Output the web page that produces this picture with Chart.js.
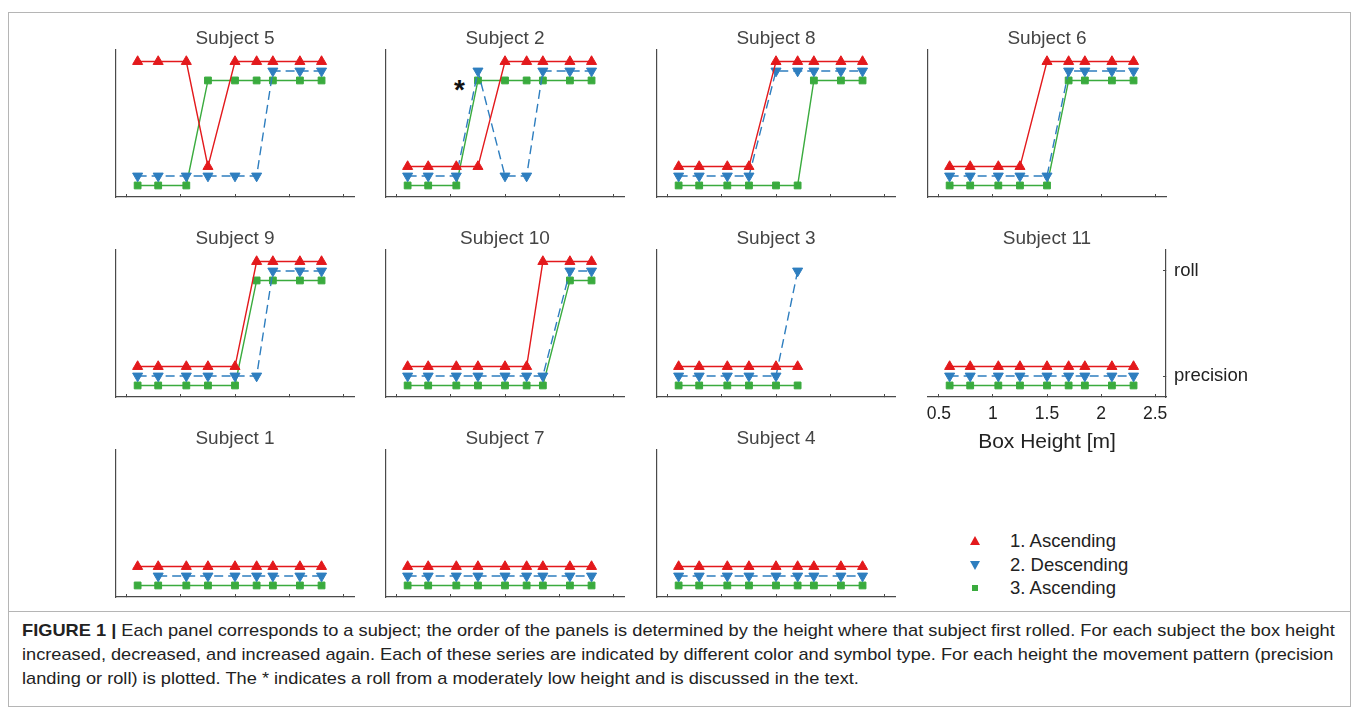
<!DOCTYPE html>
<html>
<head>
<meta charset="utf-8">
<script src="https://cdn.jsdelivr.net/npm/chart.js@4.4.0/dist/chart.umd.min.js"></script>
<style>
  body { margin: 0; background: #fff; font-family: "Liberation Sans", Arial, sans-serif; }
  #page { position: relative; width: 1358px; height: 713px; overflow: hidden; }
  .frame { position: absolute; left: 8px; top: 12px; width: 1341px; height: 693px; border: 1px solid #b5b5b5; }
  .sep { position: absolute; left: 8px; top: 611px; width: 1343px; height: 1px; background: #b5b5b5; }
  .panel { position: absolute; }
  .star { position: absolute; font: bold 28px "Liberation Sans", Arial, sans-serif; color: #111; line-height: 28px; }
  .leg { position: absolute; left: 1010px; font-size: 18.5px; color: #222; line-height: 22px; }
  .mk { position: absolute; width: 0; height: 0; }
  .caption { position: absolute; left: 22px; font-size: 17px; color: #222; line-height: 24px; white-space: nowrap; transform-origin: left center; }
  .caption b { font-weight: bold; }
</style>
</head>
<body>
<div id="page">
  <div class="frame"></div>
  <div class="sep"></div>
  <div class="star" style="left:454px; top:76px;">*</div>

  <div class="mk" style="left:970px; top:536px; border-left:5px solid transparent; border-right:5px solid transparent; border-bottom:9px solid #e3191c;"></div>
  <div class="mk" style="left:970px; top:561px; border-left:5px solid transparent; border-right:5px solid transparent; border-top:9px solid #2e7ebf;"></div>
  <div class="mk" style="left:972px; top:585px; width:6px; height:6px; background:#3aab3e;"></div>
  <div class="leg" id="leg0" style="top:530px;"></div>
  <div class="leg" id="leg1" style="top:554px;"></div>
  <div class="leg" id="leg2" style="top:577px;"></div>

  <div class="caption" id="cap1" style="top:619px;"><b>FIGURE 1 |</b> Each panel corresponds to a subject; the order of the panels is determined by the height where that subject first rolled. For each subject the box height</div>
  <div class="caption" id="cap2" style="top:643px;">increased, decreased, and increased again. Each of these series are indicated by different color and symbol type. For each height the movement pattern (precision</div>
  <div class="caption" id="cap3" style="top:667px;">landing or roll) is plotted. The * indicates a roll from a moderately low height and is discussed in the text.</div>
</div>
<script>
// Box heights tested (m)
const heights = [0.6, 0.79, 1.05, 1.25, 1.5, 1.7, 1.85, 2.1, 2.3];
const xTickValues = [0.5, 1, 1.5, 2, 2.5];
const xTickLabels = ['0.5', '1', '1.5', '2', '2.5'];
const yTickLabels = ['precision', 'roll'];
const seriesNames = ['1. Ascending', '2. Descending', '3. Ascending'];
const panelTitles = ['Subject 5', 'Subject 2', 'Subject 8', 'Subject 6',
                     'Subject 9', 'Subject 10', 'Subject 3', 'Subject 11',
                     'Subject 1', 'Subject 7', 'Subject 4'];

// 0 = precision landing, 1 = roll, null = not tested
const s5Asc1 = [1, 1, 1, 0, 1, 1, 1, 1, 1];
const s5Desc = [0, 0, 0, 0, 0, 0, 1, 1, 1];
const s5Asc2 = [0, 0, 0, 1, 1, 1, 1, 1, 1];

const s2Asc1 = [0, 0, 0, 0, 1, 1, 1, 1, 1];
const s2Desc = [0, 0, 0, 1, 0, 0, 1, 1, 1];
const s2Asc2 = [0, 0, 0, 1, 1, 1, 1, 1, 1];

const s8Asc1 = [0, 0, 0, 0, 1, 1, 1, 1, 1];
const s8Desc = [0, 0, 0, 0, 1, 1, 1, 1, 1];
const s8Asc2 = [0, 0, 0, 0, 0, 0, 1, 1, 1];

const s6Asc1 = [0, 0, 0, 0, 1, 1, 1, 1, 1];
const s6Desc = [0, 0, 0, 0, 0, 1, 1, 1, 1];
const s6Asc2 = [0, 0, 0, 0, 0, 1, 1, 1, 1];

const s9Asc1 = [0, 0, 0, 0, 0, 1, 1, 1, 1];
const s9Desc = [0, 0, 0, 0, 0, 0, 1, 1, 1];
const s9Asc2 = [0, 0, 0, 0, 0, 1, 1, 1, 1];

const s10Asc1 = [0, 0, 0, 0, 0, 0, 1, 1, 1];
const s10Desc = [0, 0, 0, 0, 0, 0, 0, 1, 1];
const s10Asc2 = [0, 0, 0, 0, 0, 0, 0, 1, 1];

const s3Asc1 = [0, 0, 0, 0, 0, 0, null, null, null];
const s3Desc = [0, 0, 0, 0, 0, 1, null, null, null];
const s3Asc2 = [0, 0, 0, 0, 0, 0, null, null, null];

const s11Asc1 = [0, 0, 0, 0, 0, 0, 0, 0, 0];
const s11Desc = [0, 0, 0, 0, 0, 0, 0, 0, 0];
const s11Asc2 = [0, 0, 0, 0, 0, 0, 0, 0, 0];

const s1Asc1 = [0, 0, 0, 0, 0, 0, 0, 0, 0];
const s1Desc = [null, 0, 0, 0, 0, 0, 0, 0, 0];
const s1Asc2 = [0, 0, 0, 0, 0, 0, 0, 0, 0];

const s7Asc1 = [0, 0, 0, 0, 0, 0, 0, 0, 0];
const s7Desc = [0, 0, 0, 0, 0, 0, 0, 0, 0];
const s7Asc2 = [0, 0, 0, 0, 0, 0, 0, 0, 0];

const s4Asc1 = [0, 0, 0, 0, 0, 0, 0, 0, 0];
const s4Desc = [0, 0, 0, 0, 0, 0, 0, 0, 0];
const s4Asc2 = [0, 0, 0, 0, 0, 0, 0, 0, 0];

const panelData = [
  [s5Asc1, s5Desc, s5Asc2], [s2Asc1, s2Desc, s2Asc2], [s8Asc1, s8Desc, s8Asc2], [s6Asc1, s6Desc, s6Asc2],
  [s9Asc1, s9Desc, s9Asc2], [s10Asc1, s10Desc, s10Asc2], [s3Asc1, s3Desc, s3Asc2], [s11Asc1, s11Desc, s11Asc2],
  [s1Asc1, s1Desc, s1Asc2], [s7Asc1, s7Desc, s7Asc2], [s4Asc1, s4Desc, s4Asc2]
];

// layout
const colX = [116, 386, 657, 928];
const rowY = [50, 250, 450];
const plotW = 238, plotH = 147, titleH = 38;
const FONT = '"Liberation Sans", Arial, sans-serif';
const AXIS = '#4a4a4a';

const seriesStyle = [
  { color: '#e3191c', shape: 'triangle', rot: 0, radius: 5.8, dash: [], off: 0.09 },
  { color: '#2e7ebf', shape: 'triangle', rot: 180, radius: 5.8, dash: [9, 5], off: 0 },
  { color: '#3aab3e', shape: 'rect', radius: 4.8, rot: 0, dash: [], off: -0.09 }
];

function toPoints(vals, off) {
  const pts = [];
  vals.forEach(function(v, i) {
    if (v !== null) pts.push({ x: heights[i], y: v + off });
  });
  return pts;
}

function makePanel(idx) {
  const title = panelTitles[idx];
  const labelled = title === 'Subject 11';
  const col = idx % 4, row = Math.floor(idx / 4);
  const padL = 12;
  const padR = labelled ? 0 : 12;
  const yW = labelled ? 100 : 0;
  const xH = labelled ? 60 : 12;
  const w = padL + plotW + padR + yW;
  const h = titleH + plotH + xH;

  const div = document.createElement('div');
  div.className = 'panel';
  div.style.left = (colX[col] - padL) + 'px';
  div.style.top = (rowY[row] - titleH) + 'px';
  const cv = document.createElement('canvas');
  cv.width = w; cv.height = h;
  cv.style.width = w + 'px'; cv.style.height = h + 'px';
  div.appendChild(cv);
  document.getElementById('page').appendChild(div);

  const datasets = panelData[idx].map(function(vals, k) {
    const st = seriesStyle[k];
    return {
      label: seriesNames[k],
      data: toPoints(vals, st.off),
      borderColor: st.color,
      backgroundColor: st.color,
      borderWidth: 1.4,
      borderDash: st.dash,
      pointStyle: st.shape,
      pointRotation: st.rot,
      pointRadius: st.radius,
      pointBorderWidth: 1,
      tension: 0,
      clip: false
    };
  });

  new Chart(cv.getContext('2d'), {
    type: 'line',
    data: { datasets: datasets },
    options: {
      responsive: false,
      animation: false,
      layout: { padding: { left: padL, right: padR, top: 0, bottom: 0 } },
      plugins: {
        legend: { display: false },
        tooltip: { enabled: false },
        title: {
          display: true,
          text: title,
          fullSize: false,
          color: '#444',
          font: { family: FONT, size: 19, weight: 'normal', lineHeight: 1.2 },
          padding: { top: 15, bottom: 0.2 }
        }
      },
      scales: {
        x: {
          type: 'linear',
          position: 'bottom',
          min: 0.4,
          max: 2.6,
          afterBuildTicks: function(s) { s.ticks = xTickValues.map(function(v) { return { value: v }; }); },
          afterFit: function(s) { s.height = xH; },
          grid: { display: true, drawOnChartArea: false, drawTicks: true, tickLength: -3, color: AXIS, lineWidth: 1 },
          border: { display: true, color: AXIS, width: 1.2 },
          ticks: {
            display: labelled,
            color: '#222',
            font: { family: FONT, size: 17.5 },
            padding: 10,
            maxRotation: 0,
            callback: function(v) { return xTickLabels[xTickValues.indexOf(v)]; }
          },
          title: { display: labelled, text: 'Box Height [m]', color: '#222', font: { family: FONT, size: 21 }, padding: { top: 0, bottom: 2 } }
        },
        y: {
          type: 'linear',
          position: labelled ? 'right' : 'left',
          min: -0.2,
          max: 1.2,
          afterBuildTicks: function(s) { s.ticks = [{ value: 0 }, { value: 1 }]; },
          afterFit: function(s) { s.width = yW; },
          grid: { display: labelled, drawOnChartArea: false, drawTicks: true, tickLength: -3, color: AXIS, lineWidth: 1 },
          border: { display: true, color: AXIS, width: 1.2 },
          ticks: {
            display: labelled,
            color: '#222',
            font: { family: FONT, size: 18.5 },
            padding: 11,
            callback: function(v) { return yTickLabels[v]; }
          }
        }
      }
    }
  });
}

panelTitles.forEach(function(t, i) { makePanel(i); });

seriesNames.forEach(function(n, k) { document.getElementById('leg' + k).textContent = n; });

// fit the caption lines to the box width
const c1 = document.getElementById('cap1');
const sc = 1313 / c1.scrollWidth;
['cap1', 'cap2', 'cap3'].forEach(function(id) {
  const el = document.getElementById(id);
  const s = id === 'cap2' ? (1311 / el.scrollWidth) : sc;
  el.style.transform = 'scaleX(' + s.toFixed(4) + ')';
});
</script>
</body>
</html>
